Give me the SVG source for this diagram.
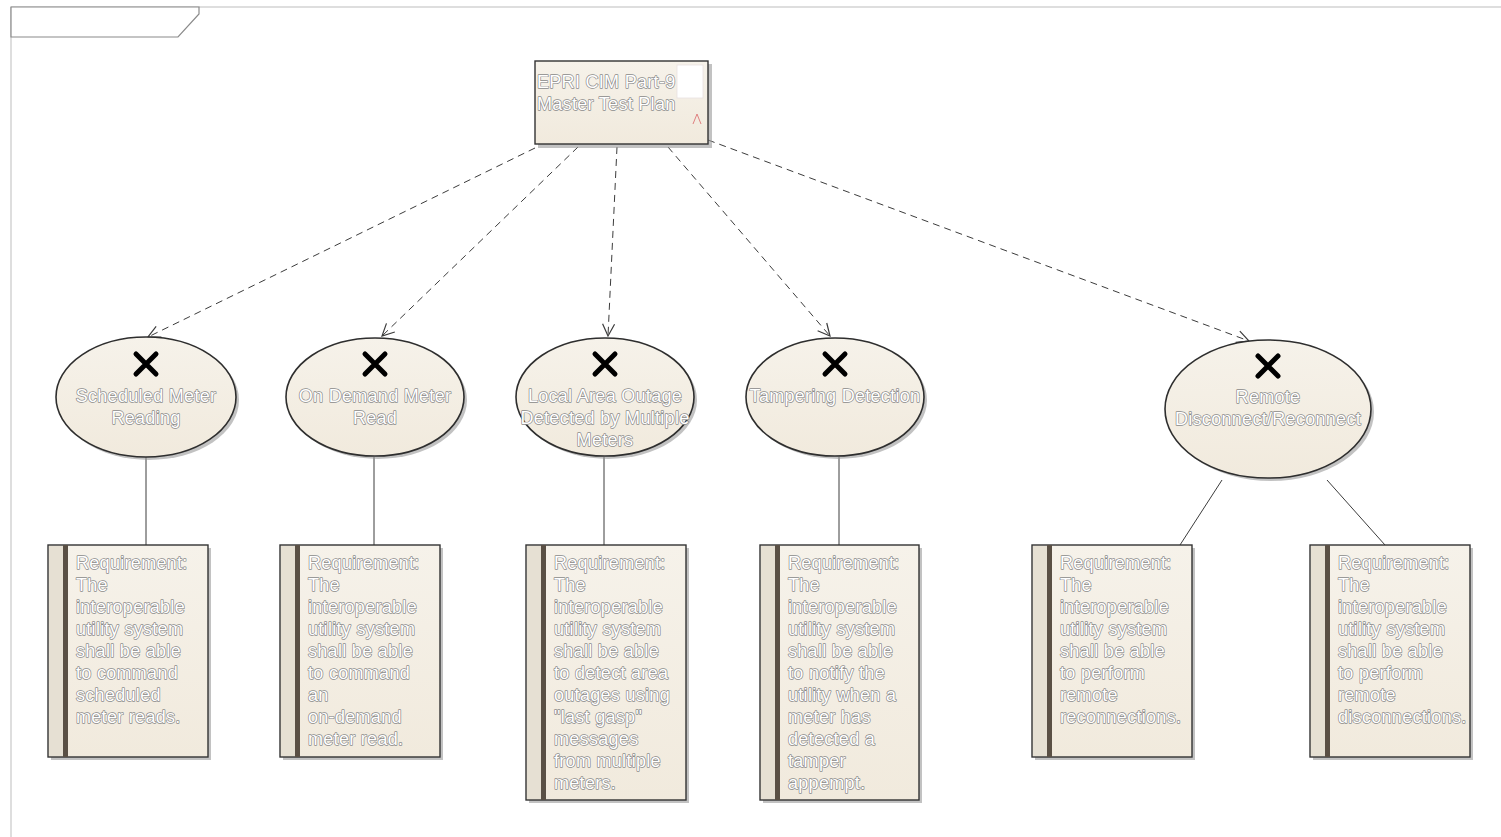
<svg xmlns="http://www.w3.org/2000/svg" width="1501" height="837" viewBox="0 0 1501 837">
<style>
.t{font-family:"Liberation Sans",Arial,sans-serif;font-size:18px;letter-spacing:0.3px;fill:#ffffff;stroke:#8a8a8a;stroke-width:1.4px;paint-order:stroke;stroke-linejoin:round}
.tc{text-anchor:middle}
.ell{fill:url(#g);stroke:#2e2e2e;stroke-width:1.6}
.note{fill:url(#g);stroke:#333;stroke-width:1.4}
.sh{fill:#9a9a9a;opacity:0.6}
.dep{fill:none;stroke:#3c3c3c;stroke-width:1;stroke-dasharray:7,5;marker-end:url(#oa)}
.ln{fill:none;stroke:#3c3c3c;stroke-width:1}
.x{stroke:#000;stroke-width:5;stroke-linecap:round}
</style>
<defs>
<linearGradient id="g" x1="0" y1="0" x2="0" y2="1">
<stop offset="0" stop-color="#f6f2ea"/>
<stop offset="1" stop-color="#f1eadd"/>
</linearGradient>
<marker id="oa" viewBox="0 0 14 14" refX="13" refY="7" markerWidth="14" markerHeight="14" markerUnits="userSpaceOnUse" orient="auto">
<path d="M1,1 L13,7 L1,13" fill="none" stroke="#3c3c3c" stroke-width="1.2"/>
</marker>
</defs>
<rect width="1501" height="837" fill="#ffffff"/>
<g id="frame">
<path d="M11,837 L11,7 L1501,7" fill="none" stroke="#bdbdbd" stroke-width="1"/>
<path d="M11,7 L199,7 L199,14 L178,37 L11,37 Z" fill="#ffffff" stroke="#8a8a8a" stroke-width="1.2"/>
</g>
<g id="connectors">
<line class="dep" x1="535" y1="148" x2="148" y2="337"/>
<line class="dep" x1="578" y1="147" x2="382" y2="336"/>
<line class="dep" x1="617" y1="147" x2="608" y2="336"/>
<line class="dep" x1="668" y1="147" x2="830" y2="336"/>
<line class="dep" x1="708" y1="140" x2="1249" y2="341"/>
<line class="ln" x1="146" y1="457" x2="146" y2="545"/>
<line class="ln" x1="374" y1="457" x2="374" y2="545"/>
<line class="ln" x1="604" y1="457" x2="604" y2="545"/>
<line class="ln" x1="839" y1="457" x2="839" y2="545"/>
<line class="ln" x1="1222" y1="480" x2="1180" y2="545"/>
<line class="ln" x1="1327" y1="480" x2="1385" y2="545"/>
</g>
<g id="plan">
<rect class="sh" x="538" y="64" width="174" height="84"/>
<rect x="535" y="61" width="173" height="83" fill="url(#g)" stroke="#333" stroke-width="1.4"/>
<rect x="677" y="65" width="26" height="33" fill="#ffffff" stroke="#e8e0e0" stroke-width="0.8"/>
<path d="M693,124 L697,114 L701,124" fill="none" stroke="#e08080" stroke-width="1"/>
<text class="t" x="537" y="88">EPRI CIM Part-9</text>
<text class="t" x="537" y="110">Master Test Plan</text>
</g>
<g id="uc1">
<ellipse class="sh" cx="149" cy="400" rx="90" ry="60"/>
<ellipse class="ell" cx="146" cy="397" rx="90" ry="60"/>
<path class="x" d="M136,354 L156,374 M156,354 L136,374"/>
<text class="t tc" x="146" y="402">Scheduled Meter</text>
<text class="t tc" x="146" y="424">Reading</text>
</g>
<g id="uc2">
<ellipse class="sh" cx="378" cy="400" rx="89" ry="59"/>
<ellipse class="ell" cx="375" cy="397" rx="89" ry="59"/>
<path class="x" d="M365,354 L385,374 M385,354 L365,374"/>
<text class="t tc" x="375" y="402">On Demand Meter</text>
<text class="t tc" x="375" y="424">Read</text>
</g>
<g id="uc3">
<ellipse class="sh" cx="608" cy="400" rx="89" ry="59"/>
<ellipse class="ell" cx="605" cy="397" rx="89" ry="59"/>
<path class="x" d="M595,354 L615,374 M615,354 L595,374"/>
<text class="t tc" x="605" y="402">Local Area Outage</text>
<text class="t tc" x="605" y="424">Detected by Multiple</text>
<text class="t tc" x="605" y="446">Meters</text>
</g>
<g id="uc4">
<ellipse class="sh" cx="838" cy="400" rx="89" ry="59"/>
<ellipse class="ell" cx="835" cy="397" rx="89" ry="59"/>
<path class="x" d="M825,354 L845,374 M845,354 L825,374"/>
<text class="t tc" x="835" y="402">Tampering Detection</text>
</g>
<g id="uc5">
<ellipse class="sh" cx="1271" cy="412" rx="103" ry="69"/>
<ellipse class="ell" cx="1268" cy="409" rx="103" ry="69"/>
<path class="x" d="M1258,356 L1278,376 M1278,356 L1258,376"/>
<text class="t tc" x="1268" y="403">Remote</text>
<text class="t tc" x="1268" y="425">Disconnect/Reconnect</text>
</g>
<g id="n1">
<rect class="sh" x="51" y="548" width="160" height="212"/>
<rect class="note" x="48" y="545" width="160" height="212"/>
<rect x="49" y="546" width="14" height="210" fill="#e6e0d3"/>
<rect x="63" y="545" width="5" height="212" fill="#5a5045"/>
<text class="t" x="76" y="569">Requirement:</text>
<text class="t" x="76" y="591">The</text>
<text class="t" x="76" y="613">interoperable</text>
<text class="t" x="76" y="635">utility system</text>
<text class="t" x="76" y="657">shall be able</text>
<text class="t" x="76" y="679">to command</text>
<text class="t" x="76" y="701">scheduled</text>
<text class="t" x="76" y="723">meter reads.</text>
</g>
<g id="n2">
<rect class="sh" x="283" y="548" width="160" height="212"/>
<rect class="note" x="280" y="545" width="160" height="212"/>
<rect x="281" y="546" width="14" height="210" fill="#e6e0d3"/>
<rect x="295" y="545" width="5" height="212" fill="#5a5045"/>
<text class="t" x="308" y="569">Requirement:</text>
<text class="t" x="308" y="591">The</text>
<text class="t" x="308" y="613">interoperable</text>
<text class="t" x="308" y="635">utility system</text>
<text class="t" x="308" y="657">shall be able</text>
<text class="t" x="308" y="679">to command</text>
<text class="t" x="308" y="701">an</text>
<text class="t" x="308" y="723">on-demand</text>
<text class="t" x="308" y="745">meter read.</text>
</g>
<g id="n3">
<rect class="sh" x="529" y="548" width="160" height="255"/>
<rect class="note" x="526" y="545" width="160" height="255"/>
<rect x="527" y="546" width="14" height="253" fill="#e6e0d3"/>
<rect x="541" y="545" width="5" height="255" fill="#5a5045"/>
<text class="t" x="554" y="569">Requirement:</text>
<text class="t" x="554" y="591">The</text>
<text class="t" x="554" y="613">interoperable</text>
<text class="t" x="554" y="635">utility system</text>
<text class="t" x="554" y="657">shall be able</text>
<text class="t" x="554" y="679">to detect area</text>
<text class="t" x="554" y="701">outages using</text>
<text class="t" x="554" y="723">"last gasp"</text>
<text class="t" x="554" y="745">messages</text>
<text class="t" x="554" y="767">from multiple</text>
<text class="t" x="554" y="789">meters.</text>
</g>
<g id="n4">
<rect class="sh" x="763" y="548" width="159" height="255"/>
<rect class="note" x="760" y="545" width="159" height="255"/>
<rect x="761" y="546" width="14" height="253" fill="#e6e0d3"/>
<rect x="775" y="545" width="5" height="255" fill="#5a5045"/>
<text class="t" x="788" y="569">Requirement:</text>
<text class="t" x="788" y="591">The</text>
<text class="t" x="788" y="613">interoperable</text>
<text class="t" x="788" y="635">utility system</text>
<text class="t" x="788" y="657">shall be able</text>
<text class="t" x="788" y="679">to notify the</text>
<text class="t" x="788" y="701">utility when a</text>
<text class="t" x="788" y="723">meter has</text>
<text class="t" x="788" y="745">detected a</text>
<text class="t" x="788" y="767">tamper</text>
<text class="t" x="788" y="789">appempt.</text>
</g>
<g id="n5">
<rect class="sh" x="1035" y="548" width="160" height="212"/>
<rect class="note" x="1032" y="545" width="160" height="212"/>
<rect x="1033" y="546" width="14" height="210" fill="#e6e0d3"/>
<rect x="1047" y="545" width="5" height="212" fill="#5a5045"/>
<text class="t" x="1060" y="569">Requirement:</text>
<text class="t" x="1060" y="591">The</text>
<text class="t" x="1060" y="613">interoperable</text>
<text class="t" x="1060" y="635">utility system</text>
<text class="t" x="1060" y="657">shall be able</text>
<text class="t" x="1060" y="679">to perform</text>
<text class="t" x="1060" y="701">remote</text>
<text class="t" x="1060" y="723">reconnections.</text>
</g>
<g id="n6">
<rect class="sh" x="1313" y="548" width="160" height="212"/>
<rect class="note" x="1310" y="545" width="160" height="212"/>
<rect x="1311" y="546" width="14" height="210" fill="#e6e0d3"/>
<rect x="1325" y="545" width="5" height="212" fill="#5a5045"/>
<text class="t" x="1338" y="569">Requirement:</text>
<text class="t" x="1338" y="591">The</text>
<text class="t" x="1338" y="613">interoperable</text>
<text class="t" x="1338" y="635">utility system</text>
<text class="t" x="1338" y="657">shall be able</text>
<text class="t" x="1338" y="679">to perform</text>
<text class="t" x="1338" y="701">remote</text>
<text class="t" x="1338" y="723">disconnections.</text>
</g>
</svg>
